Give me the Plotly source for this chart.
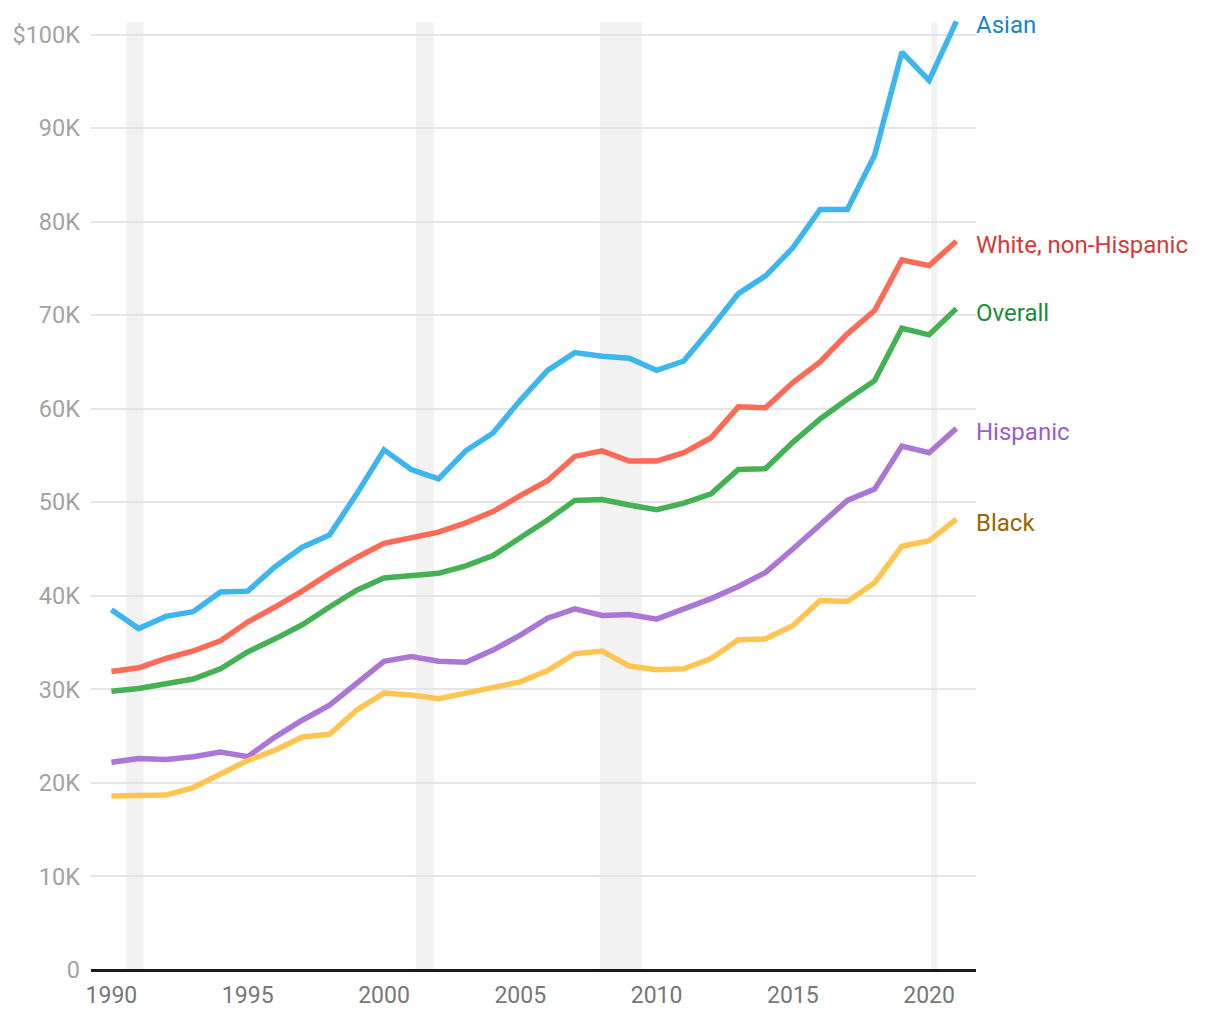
import plotly.graph_objects as go

years = list(range(1990, 2022))

asian = [38.5, 36.5, 37.8, 38.3, 40.4, 40.5, 43.1, 45.2, 46.5, 50.9, 55.6, 53.5, 52.5, 55.5, 57.4, 60.9,
         64.1, 66.0, 65.6, 65.4, 64.1, 65.1, 68.6, 72.3, 74.2, 77.2, 81.3, 81.3, 87.1, 98.1, 95.1, 101.4]
white = [31.9, 32.3, 33.3, 34.1, 35.2, 37.2, 38.8, 40.5, 42.4, 44.1, 45.6, 46.2, 46.8, 47.8, 49.0, 50.7,
         52.3, 54.9, 55.5, 54.4, 54.4, 55.3, 56.9, 60.2, 60.1, 62.8, 65.0, 68.0, 70.5, 75.9, 75.3, 77.9]
overall = [29.8, 30.1, 30.6, 31.1, 32.2, 34.0, 35.4, 36.9, 38.8, 40.6, 41.9, 42.1, 42.4, 43.2, 44.3, 46.2,
           48.1, 50.2, 50.3, 49.7, 49.2, 49.9, 50.9, 53.5, 53.6, 56.4, 58.9, 61.0, 63.0, 68.6, 67.9, 70.7]
hispanic = [22.2, 22.6, 22.5, 22.8, 23.3, 22.8, 24.9, 26.7, 28.3, 30.7, 33.0, 33.5, 33.0, 32.9, 34.2, 35.8,
            37.6, 38.6, 37.9, 38.0, 37.5, 38.6, 39.7, 41.0, 42.5, 45.0, 47.6, 50.2, 51.4, 56.0, 55.3, 57.9]
black = [18.6, 18.7, 18.7, 19.5, 21.0, 22.4, 23.5, 24.9, 25.2, 27.8, 29.6, 29.4, 29.0, 29.6, 30.1, 30.8,
         32.0, 33.8, 34.1, 32.5, 32.1, 32.2, 33.3, 35.3, 35.4, 36.8, 39.5, 39.4, 41.4, 45.3, 45.9, 48.2]

series_names = ["Asian", "White, non-Hispanic", "Overall", "Hispanic", "Black"]
series_values = [asian, white, overall, hispanic, black]
line_colors = ["#3db5ee", "#fe6a58", "#45b155", "#ab77d5", "#ffc552"]
label_colors = ["#1a85bf", "#d23b3b", "#1b8c3a", "#9a5ec8", "#996600"]

recessions = [(1990.54, 1991.18), (2001.17, 2001.83), (2007.92, 2009.47), (2020.08, 2020.3)]
band_top = 101.3

y_ticks = [0, 10, 20, 30, 40, 50, 60, 70, 80, 90, 100]
y_labels = ["0", "10K", "20K", "30K", "40K", "50K", "60K", "70K", "80K", "90K", "$100K"]
x_ticks = [1990, 1995, 2000, 2005, 2010, 2015, 2020]

fig = go.Figure()

for name, vals, lc in zip(series_names, series_values, line_colors):
    fig.add_trace(go.Scatter(x=years, y=vals, mode="lines", name=name,
                             line=dict(color=lc, width=5.5),
                             hoverinfo="x+y+name"))

for x0, x1 in recessions:
    fig.add_shape(type="rect", xref="x", yref="y", x0=x0, x1=x1, y0=0, y1=band_top,
                  fillcolor="#f2f2f2", line=dict(width=0), layer="below")

for name, vals, tc in zip(series_names, series_values, label_colors):
    fig.add_annotation(x=years[-1], y=vals[-1], text=name, xref="x", yref="y",
                       xanchor="left", yanchor="middle", xshift=18, yshift=-4,
                       showarrow=False, font=dict(family="Roboto", size=24, color=tc))

fig.update_layout(
    width=1220, height=1020,
    margin=dict(l=83, r=252, t=4.5, b=58),
    plot_bgcolor="white", paper_bgcolor="white",
    showlegend=False,
    font=dict(family="Roboto"),
)
fig.update_xaxes(range=[1989.25, 2021.72], tickvals=x_ticks, showgrid=False, zeroline=False,
                 showline=False, ticks="", ticklabelstandoff=9,
                 tickfont=dict(size=23, color="#777777"))
fig.update_yaxes(range=[0, 102.3], tickvals=y_ticks, ticktext=y_labels, showgrid=True,
                 gridcolor="#e5e5e5", gridwidth=2, zeroline=True, zerolinecolor="#1a1a1a",
                 zerolinewidth=2.5, showline=False, ticks="", ticklabelstandoff=10,
                 tickfont=dict(size=23.5, color="#a3a3a3"))

fig.write_html("out.html")
